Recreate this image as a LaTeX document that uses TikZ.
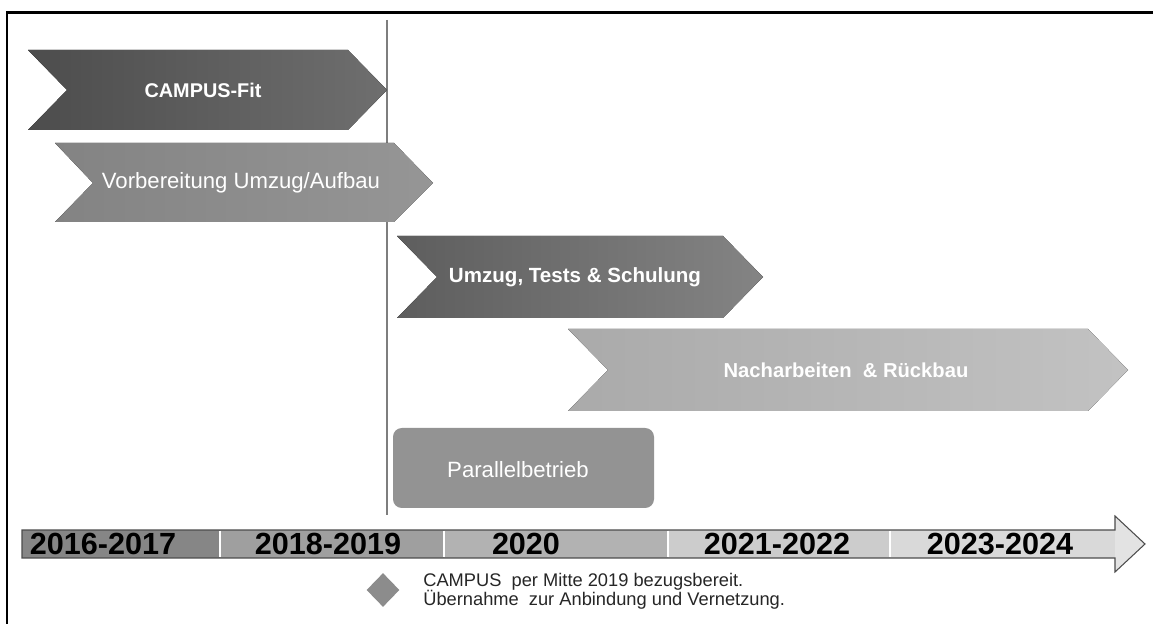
\documentclass[tikz,border=0pt]{standalone}
\usepackage{fontspec}
\setmainfont{Liberation Sans}
\usetikzlibrary{shapes.geometric,positioning,calc}

\definecolor{fitgray}{HTML}{555555}
\definecolor{prepgray}{HTML}{8A8A8A}
\definecolor{movegray}{HTML}{6E6E6E}
\definecolor{reworkgray}{HTML}{B3B3B3}
\definecolor{pargray}{HTML}{939393}
\definecolor{markgray}{HTML}{8C8C8C}

\tikzset{
  phaselabel/.style={text=white, inner sep=0pt},
  yearlabel/.style={text=black, inner sep=0pt, font=\bfseries\fontsize{17.4}{20}\selectfont},
  yearsep/.style={draw=white, line width=0.8pt},
}

\begin{document}
\begin{tikzpicture}[x=0.02cm,y=-0.02cm]
\useasboundingbox (0,0) rectangle (1153,624);
% frame
\draw [line width=1.7pt, line join=miter] (1153,12.5) -- (7,12.5) -- (7,624);
% milestone line
\draw [markgray!90!black, line width=1.1pt] (387,20) -- (387,515);
% phases
\fill [left color=fitgray!90!black, right color=fitgray!85!white]
  (28,50) -- (348,50) -- (387,90) -- (348,130) -- (28,130) -- (67,90) -- cycle;
\fill [left color=prepgray!95!black, right color=prepgray!90!white]
  (55,143) -- (394,143) -- (433,183) -- (394,222) -- (55,222) -- (93,183) -- cycle;
\fill [left color=movegray!85!black, right color=movegray!85!white]
  (397,236) -- (723,236) -- (763,277) -- (723,318) -- (397,318) -- (437,277) -- cycle;
\fill [left color=reworkgray!95!black, right color=reworkgray!80!white]
  (568,329) -- (1088,329) -- (1128,370) -- (1088,411) -- (568,411) -- (608,370) -- cycle;
\fill [pargray, rounded corners=5] (393,428) rectangle (654,508);
\node [phaselabel, font=\bfseries\fontsize{11.3}{13}\selectfont] (fit) at (203,90) {CAMPUS-Fit};
\node [phaselabel, font=\fontsize{12.6}{14}\selectfont] (prep) at (241,183) {Vorbereitung Umzug/Aufbau};
\node [phaselabel, font=\bfseries\fontsize{11.7}{13}\selectfont] (move) at (575,277) {Umzug, Tests \& Schulung};
\node [phaselabel, font=\bfseries\fontsize{11.5}{13}\selectfont] (rework) at (846,370) {Nacharbeiten\ \ \& Rückbau};
\node [phaselabel, font=\fontsize{12.6}{14}\selectfont] (parallel) at (518,470) {Parallelbetrieb};
% time bar
\fill [gray!95!white] (22,530) rectangle (220,558);
\fill [gray!75!white] (220,530) rectangle (444,558);
\fill [gray!60!white] (444,530) rectangle (668,558);
\fill [gray!40!white] (668,530) rectangle (890,558);
\fill [gray!30!white] (890,530) rectangle (1115,558);
\fill [gray!22!white] (1115,516) -- (1145,544) -- (1115,572) -- cycle;
\draw [yearsep] (220,531) -- (220,557);
\draw [yearsep] (444,531) -- (444,557);
\draw [yearsep] (668,531) -- (668,557);
\draw [yearsep] (890,531) -- (890,557);
\draw [black!70, line width=0.6pt, line join=miter]
  (22,530) -- (1115,530) -- (1115,516) -- (1145,544) -- (1115,572) -- (1115,558) -- (22,558) -- cycle;
\node [yearlabel] (y1) at (103,544) {2016-2017};
\node [yearlabel] (y2) at (328,544) {2018-2019};
\node [yearlabel] (y3) at (526,544) {2020};
\node [yearlabel] (y4) at (777,544) {2021-2022};
\node [yearlabel] (y5) at (1000,544) {2023-2024};
% milestone note
\node [diamond, fill=markgray, inner sep=0pt, minimum width=0.66cm, minimum height=0.68cm] (mark) at (383,590) {};
\node [anchor=west, align=left, inner sep=0pt, text=black!85, font=\fontsize{10.4}{10.9}\selectfont]
  (note) at (423,591) {CAMPUS\ \ per Mitte\ 2019 bezugsbereit.\\Übernahme\ \ zur Anbindung\ und Vernetzung.};
\end{tikzpicture}
\end{document}
